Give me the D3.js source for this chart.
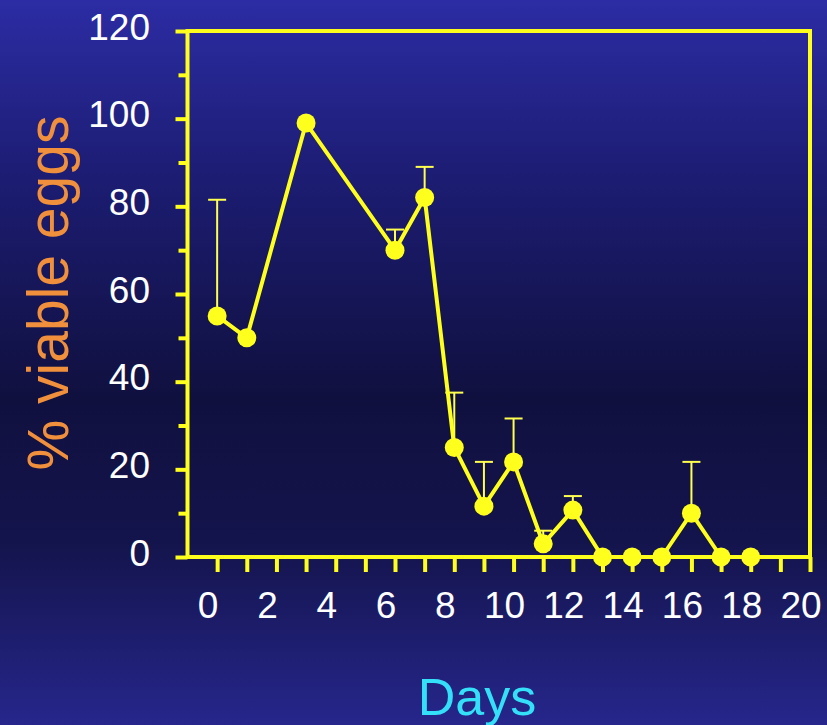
<!DOCTYPE html>
<html>
<head>
<meta charset="utf-8">
<script src="https://cdn.jsdelivr.net/npm/d3@7"></script>
<style>
  html, body { margin: 0; padding: 0; background: #151550; }
  svg { display: block; }
</style>
</head>
<body>
<svg id="chart" width="827" height="725"></svg>
<script>
// Egg viability over time (mean with upper error bar)
const days = [0, 1, 3, 6, 7, 8, 9, 10, 11, 12, 13, 14, 15, 16, 17, 18];
const viable = [55, 50, 99, 70, 82, 25, 11.6, 21.7, 3, 10.7, 0, 0, 0, 10, 0, 0];
const errorUp = [26.5, 0, 0, 4.7, 7, 12.5, 10.1, 9.9, 3, 3.2, 0, 0, 0, 11.7, 0, 0];

const xTicks = d3.range(0, 21, 1);
const xLabels = d3.range(0, 21, 2);
const yTicks = d3.range(0, 121, 10);
const yLabels = d3.range(0, 121, 20);

const yTitle = "% viable eggs";
const xTitle = "Days";

const W = 827, H = 725;
const yellow = "#ffff1e";
const font = "'Liberation Sans', Arial, Helvetica, sans-serif";

const svg = d3.select("#chart");

// background gradient: bright blue top, dark navy middle, blue again at bottom
const defs = svg.append("defs");
const grad = defs.append("linearGradient")
  .attr("id", "bg").attr("x1", 0).attr("y1", 0).attr("x2", 0).attr("y2", 1);
[[0, "#2c2ca4"], [0.25, "#1c1c72"], [0.55, "#10103f"], [0.75, "#14144d"], [1, "#26268c"]]
  .forEach(([o, c]) => grad.append("stop").attr("offset", o).attr("stop-color", c));
svg.append("rect").attr("width", W).attr("height", H).attr("fill", "url(#bg)");

const x = d3.scaleLinear().domain([-1, 20]).range([187.5, 810]);
const y = d3.scaleLinear().domain([0, 120]).range([557, 31]);

// frame
svg.append("rect")
  .attr("x", x(-1)).attr("y", y(120))
  .attr("width", x(20) - x(-1)).attr("height", y(0) - y(120))
  .attr("fill", "none").attr("stroke", yellow).attr("stroke-width", 4);

// y axis ticks (major every 20, minor every 10)
const yAxis = svg.append("g").attr("transform", `translate(${x(-1)},0)`)
  .call(d3.axisLeft(y).tickValues(yTicks).tickSize(0).tickFormat(""));
yAxis.select(".domain").remove();
yAxis.selectAll(".tick line")
  .attr("x2", d => (d % 20 === 0 ? -12 : -9))
  .attr("stroke", yellow).attr("stroke-width", 4);

svg.append("g").selectAll("text").data(yLabels).join("text")
  .attr("x", 150).attr("y", d => y(d) - 4)
  .attr("text-anchor", "end").attr("dominant-baseline", "central")
  .attr("fill", "#ffffff").attr("font-family", font).attr("font-size", 37)
  .text(d => d);

// x axis ticks
const xAxis = svg.append("g").attr("transform", `translate(0,${y(0)})`)
  .call(d3.axisBottom(x).tickValues(xTicks).tickSize(15).tickFormat(""));
xAxis.select(".domain").remove();
xAxis.selectAll(".tick line").attr("stroke", yellow).attr("stroke-width", 4);

svg.append("g").selectAll("text").data(xLabels).join("text")
  .attr("x", d => x(d) - 9).attr("y", 618)
  .attr("text-anchor", "middle")
  .attr("fill", "#ffffff").attr("font-family", font).attr("font-size", 37)
  .text(d => d);

const pts = days.map((d, i) => ({ day: d, v: viable[i], e: errorUp[i] }));

// upper error bars
const eb = svg.append("g").attr("stroke", "#ffff50").attr("stroke-width", 2).attr("fill", "none");
pts.filter(p => p.e > 0).forEach(p => {
  eb.append("line").attr("x1", x(p.day)).attr("x2", x(p.day))
    .attr("y1", y(p.v)).attr("y2", y(p.v + p.e));
  eb.append("line").attr("x1", x(p.day) - 9).attr("x2", x(p.day) + 9)
    .attr("y1", y(p.v + p.e)).attr("y2", y(p.v + p.e));
});

// connecting line
svg.append("path").datum(pts)
  .attr("fill", "none").attr("stroke", yellow).attr("stroke-width", 4)
  .attr("stroke-linejoin", "round")
  .attr("d", d3.line().x(p => x(p.day)).y(p => y(p.v)));

// markers
svg.append("g").selectAll("circle").data(pts).join("circle")
  .attr("cx", p => x(p.day)).attr("cy", p => y(p.v)).attr("r", 9.5)
  .attr("fill", yellow);

// axis titles
svg.append("text")
  .attr("transform", "translate(68,293) rotate(-90)")
  .attr("text-anchor", "middle")
  .attr("fill", "#f0903c").attr("font-family", font).attr("font-size", 57)
  .text(yTitle);

svg.append("text")
  .attr("x", 477).attr("y", 715).attr("text-anchor", "middle")
  .attr("fill", "#33e0f8").attr("font-family", font).attr("font-size", 52)
  .text(xTitle);
</script>
</body>
</html>
